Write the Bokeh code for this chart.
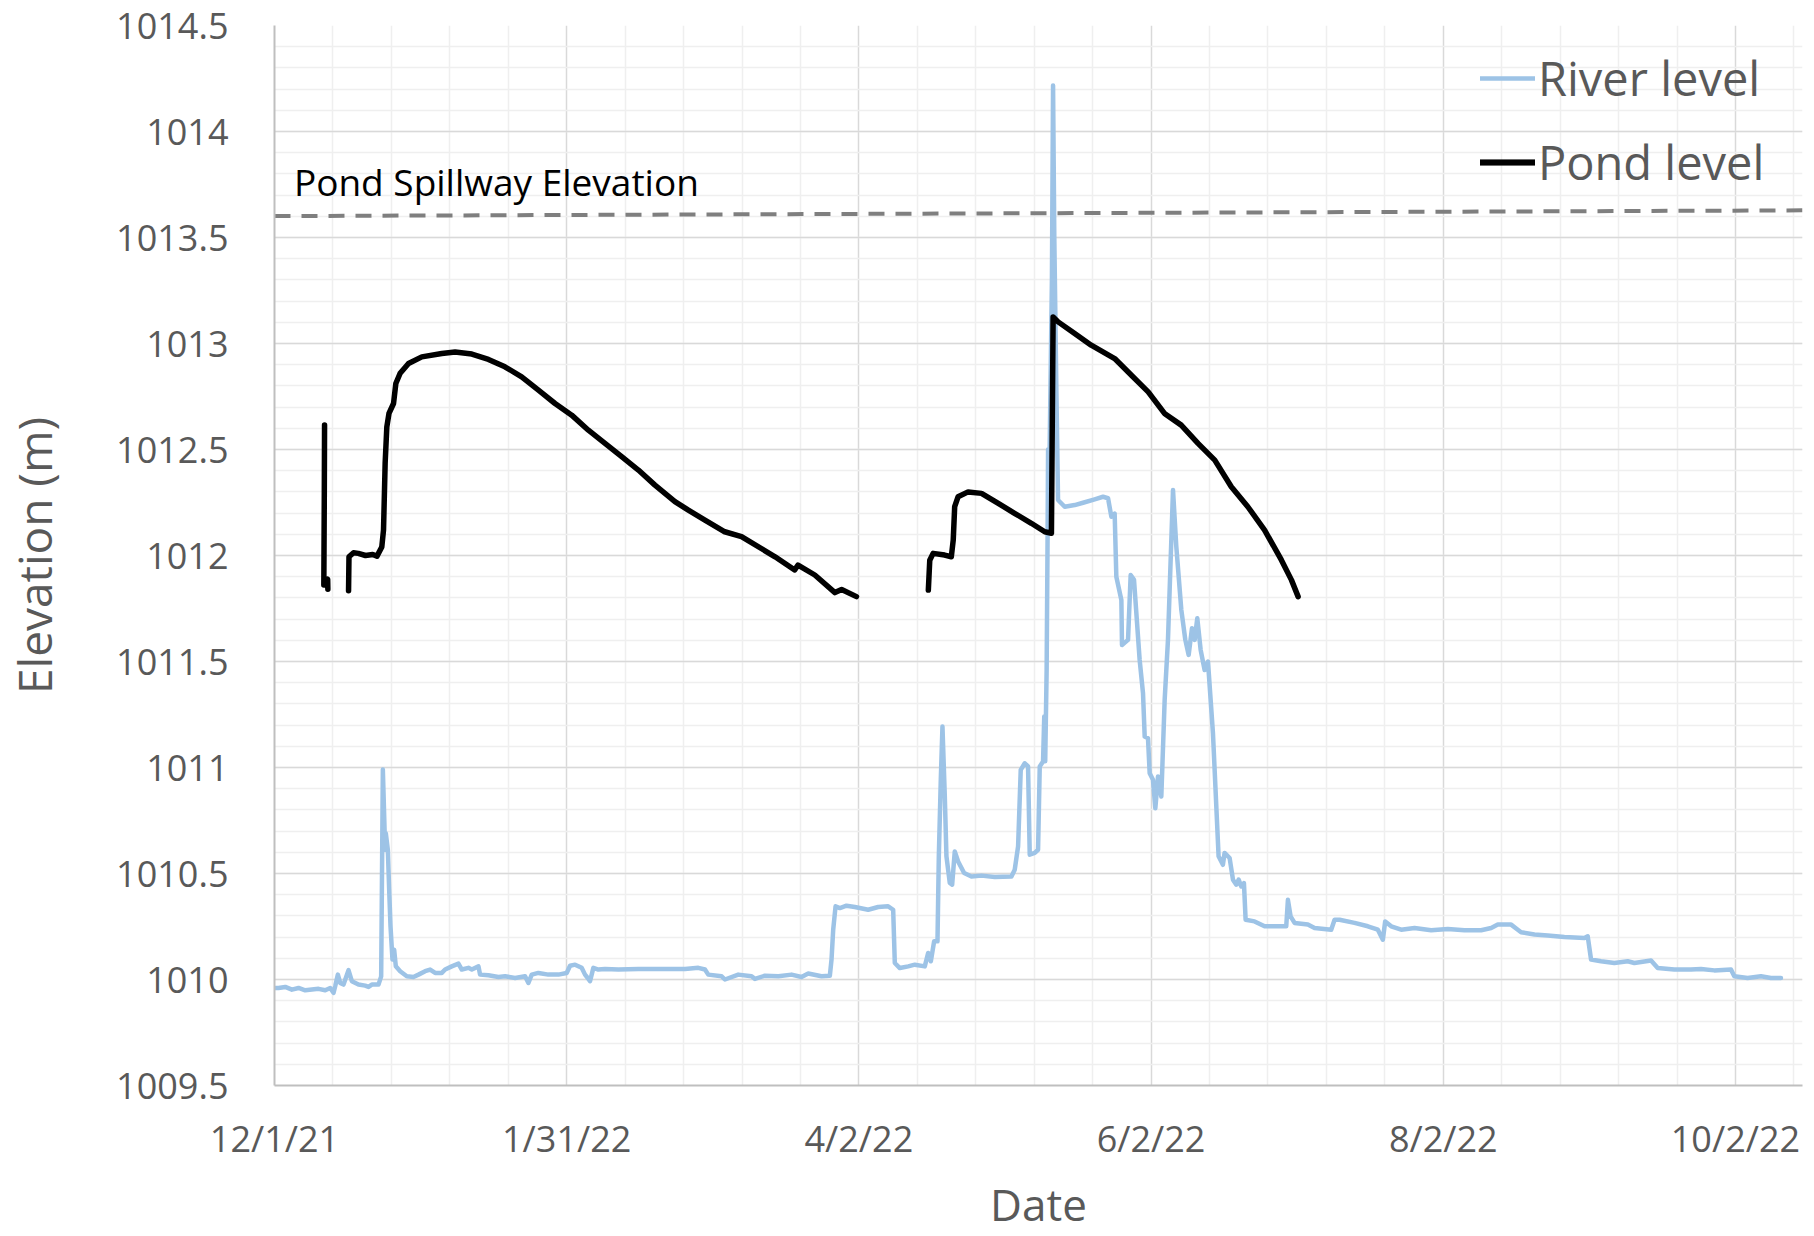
import numpy as np
import pandas as pd
from bokeh.plotting import figure
from bokeh.models import (FixedTicker, NumeralTickFormatter, CustomJSTickFormatter,
                          Label, Legend, LegendItem, Range1d)
from bokeh.embed import file_html
from bokeh.resources import INLINE

# ---------------- data (days since 2021-12-01) ----------------
START = pd.Timestamp("2021-12-01")
X_END_DAYS = 319.0

river_days = [
    0.0, 0.85, 2.24, 3.63, 5.02, 6.41, 9.19, 10.59, 11.63, 12.32, 12.67, 13.23, 13.71, 14.41,
    15.45, 16.15, 17.54, 18.93, 19.63, 20.32, 21.71, 22.27, 22.62, 23.10, 23.24, 23.66, 23.94,
    24.22, 24.63, 24.98, 25.33, 26.23, 27.62, 29.01, 30.06, 31.45, 32.49, 33.54, 34.93, 35.62,
    37.01, 38.40, 39.10, 40.49, 41.19, 42.58, 42.92, 44.66, 46.75, 48.14, 50.23, 52.31, 53.01,
    53.70, 55.09, 57.18, 59.27, 61.00, 61.70, 62.75, 64.13, 64.83, 65.39, 65.87, 66.57, 67.61,
    69.00, 71.79, 75.96, 79.43, 82.91, 85.70, 88.48, 89.87, 90.56, 93.35, 94.04, 96.82, 99.60,
    100.30, 102.40, 105.20, 107.95, 110.03, 111.42, 114.20, 115.94, 116.29, 116.64, 117.13,
    118.03, 119.42, 121.16, 123.94, 126.03, 128.11, 129.16, 129.50, 130.55, 132.29, 133.68,
    135.76, 136.46, 137.02, 137.71, 138.41, 138.69, 139.10, 139.45, 139.94, 140.28, 140.98,
    141.47, 142.02, 142.72, 143.97, 145.50, 147.59, 150.37, 153.85, 154.54, 155.24, 155.79,
    156.63, 157.32, 157.67, 158.71, 159.41, 159.76, 160.45, 160.70, 160.90, 161.20, 161.40,
    161.50, 161.65, 162.30, 162.54, 162.80, 163.24, 163.58, 164.97, 167.06, 168.80, 171.23,
    172.97, 174.02, 174.71, 175.40, 175.75, 176.80, 176.93, 178.19, 178.74, 179.44, 180.62,
    181.32, 181.67, 182.36, 182.71, 183.40, 183.89, 184.45, 185.14, 185.84, 186.53, 187.58,
    188.27, 189.32, 190.15, 190.85, 191.54, 192.10, 192.65, 193.35, 194.18, 194.88, 195.92,
    197.10, 198.00, 198.35, 199.40, 200.10, 200.80, 201.28, 201.83, 202.39, 202.74, 204.61,
    206.70, 208.79, 211.22, 211.57, 212.13, 212.96, 215.74, 217.13, 220.61, 221.31, 222.35,
    225.48, 228.26, 230.35, 231.39, 231.88, 233.13, 235.22, 238.00, 241.48, 244.95, 248.43,
    251.91, 254.00, 255.39, 258.17, 259.56, 260.25, 263.04, 265.82, 269.29, 273.47, 274.16,
    274.86, 276.94, 279.72, 282.51, 283.90, 287.38, 288.77, 292.24, 295.72, 297.81, 300.59,
    304.07, 304.76, 307.54, 310.33, 312.42, 314.50,
]
river_level = [
    1009.960, 1009.960, 1009.965, 1009.952, 1009.960, 1009.949, 1009.956, 1009.949, 1009.960,
    1009.937, 1009.968, 1010.023, 1009.984, 1009.976, 1010.044, 1009.992, 1009.976, 1009.971,
    1009.965, 1009.976, 1009.976, 1010.015, 1010.990, 1010.612, 1010.690, 1010.612, 1010.424,
    1010.251, 1010.094, 1010.141, 1010.062, 1010.039, 1010.015, 1010.012, 1010.023, 1010.039,
    1010.047, 1010.031, 1010.031, 1010.047, 1010.062, 1010.075, 1010.047, 1010.055, 1010.047,
    1010.062, 1010.023, 1010.020, 1010.012, 1010.015, 1010.007, 1010.015, 1009.984, 1010.023,
    1010.031, 1010.023, 1010.023, 1010.031, 1010.065, 1010.070, 1010.055, 1010.023, 1010.007,
    1009.992, 1010.055, 1010.047, 1010.050, 1010.047, 1010.050, 1010.050, 1010.050, 1010.050,
    1010.055, 1010.047, 1010.023, 1010.015, 1010.000, 1010.023, 1010.015, 1010.003, 1010.018,
    1010.015, 1010.023, 1010.012, 1010.028, 1010.015, 1010.018, 1010.094, 1010.235, 1010.345,
    1010.337, 1010.348, 1010.342, 1010.329, 1010.342, 1010.345, 1010.329, 1010.078, 1010.054,
    1010.062, 1010.070, 1010.062, 1010.125, 1010.086, 1010.180, 1010.180, 1010.581, 1010.942,
    1011.193, 1010.863, 1010.581, 1010.455, 1010.447, 1010.604, 1010.557, 1010.502, 1010.486,
    1010.490, 1010.483, 1010.486, 1010.518, 1010.628, 1010.989, 1011.020, 1011.005, 1010.589,
    1010.597, 1010.612, 1011.005, 1011.028, 1011.240, 1011.030, 1011.460, 1012.100, 1012.500,
    1012.200, 1013.300, 1014.217, 1013.500, 1012.764, 1012.262, 1012.230, 1012.238, 1012.249,
    1012.265, 1012.277, 1012.270, 1012.183, 1012.198, 1011.900, 1011.790, 1011.578, 1011.602,
    1011.908, 1011.885, 1011.507, 1011.350, 1011.146, 1011.138, 1010.973, 1010.942, 1010.808,
    1010.958, 1010.863, 1011.319, 1011.602, 1012.309, 1012.042, 1011.743, 1011.602, 1011.531,
    1011.657, 1011.602, 1011.704, 1011.555, 1011.460, 1011.500, 1011.162, 1010.581, 1010.541,
    1010.597, 1010.573, 1010.471, 1010.447, 1010.471, 1010.439, 1010.455, 1010.282, 1010.274,
    1010.251, 1010.251, 1010.251, 1010.376, 1010.298, 1010.267, 1010.259, 1010.243, 1010.235,
    1010.282, 1010.282, 1010.267, 1010.251, 1010.235, 1010.188, 1010.274, 1010.251, 1010.235,
    1010.243, 1010.232, 1010.238, 1010.232, 1010.232, 1010.243, 1010.259, 1010.259, 1010.235,
    1010.223, 1010.212, 1010.207, 1010.200, 1010.196, 1010.204, 1010.094, 1010.086, 1010.078,
    1010.086, 1010.078, 1010.090, 1010.054, 1010.047, 1010.047, 1010.050, 1010.043, 1010.047,
    1010.015, 1010.007, 1010.015, 1010.007, 1010.007,
]

pond1_days = [10.45, 10.40, 10.30, 11.10, 11.14]
pond1_level = [1012.615, 1012.300, 1011.861, 1011.888, 1011.841]

pond2_days = [
    15.46, 15.55, 16.50, 17.50, 19.00, 20.50, 21.40, 22.40, 22.76, 23.10, 23.45, 23.90, 24.85,
    25.33, 26.23, 27.98, 30.75, 34.93, 37.70, 41.20, 44.67, 48.10, 51.60, 55.10, 58.57, 62.05,
    65.53, 69.00, 72.48, 75.97, 79.43, 83.60, 86.40, 89.86, 94.00, 97.50, 104.50, 108.60,
    109.30, 112.80, 117.00, 118.40, 121.50,
]
pond2_level = [
    1011.834, 1011.994, 1012.013, 1012.010, 1012.000, 1012.005, 1011.997, 1012.040, 1012.120,
    1012.435, 1012.607, 1012.670, 1012.717, 1012.811, 1012.860, 1012.906, 1012.937, 1012.953,
    1012.960, 1012.950, 1012.925, 1012.890, 1012.843, 1012.780, 1012.717, 1012.662, 1012.591,
    1012.529, 1012.466, 1012.403, 1012.332, 1012.254, 1012.214, 1012.167, 1012.112, 1012.089,
    1011.994, 1011.932, 1011.955, 1011.908, 1011.825, 1011.840, 1011.806,
]

pond3_days = [
    136.50, 136.80, 137.50, 139.90, 141.30, 141.70, 142.00, 142.70, 144.80, 147.60, 151.10,
    154.50, 158.00, 160.80, 162.20, 162.55, 163.60, 167.05, 170.50, 175.40, 178.90, 182.40,
    185.80, 189.30, 192.80, 196.30, 199.75, 203.20, 206.70, 210.20, 212.30, 213.70,
]
pond3_level = [
    1011.837, 1011.978, 1012.010, 1012.002, 1011.994, 1012.073, 1012.230, 1012.277, 1012.300,
    1012.293, 1012.246, 1012.199, 1012.152, 1012.112, 1012.105, 1013.125, 1013.102, 1013.047,
    1012.992, 1012.929, 1012.850, 1012.772, 1012.670, 1012.615, 1012.529, 1012.450, 1012.324,
    1012.230, 1012.120, 1011.979, 1011.885, 1011.806,
]

spill_days = [0.0, 319.0]
spill_level = [1013.601, 1013.628]
spill_text = "Pond Spillway Elevation"
spill_text_days = 4.05
spill_text_level = 1013.765

x_tick_dates = ["2021-12-01", "2022-01-31", "2022-04-02", "2022-06-02", "2022-08-02", "2022-10-02"]
y_ticks = [1009.5, 1010.0, 1010.5, 1011.0, 1011.5, 1012.0, 1012.5, 1013.0, 1013.5, 1014.0, 1014.5]
y_min, y_max = 1009.5, 1014.5


def to_dt(days):
    return START + pd.to_timedelta(np.asarray(days, dtype=float), unit="D")


def to_ms(ts):
    return pd.Timestamp(ts).value / 1e6


FONT = "Open Sans"
GREY_TXT = "#595959"

p = figure(width=1814, height=1236, x_axis_type="datetime",
           output_backend="svg", toolbar_location=None,
           x_range=Range1d(to_ms(START), to_ms(START + pd.Timedelta(days=X_END_DAYS))),
           y_range=Range1d(y_min, y_max),
           min_border_left=273, min_border_right=12, min_border_top=25, min_border_bottom=150)
p.outline_line_color = None
p.background_fill_color = "white"
p.border_fill_color = "white"

# ticks
major_ms = [to_ms(d) for d in x_tick_dates]
step_ms = (major_ms[1] - major_ms[0]) / 5.0
minor_ms = []
for m in major_ms:
    for k in range(1, 5):
        minor_ms.append(m + k * step_ms)
minor_ms.append(major_ms[-1] + 5 * step_ms)
p.xaxis.ticker = FixedTicker(ticks=major_ms, minor_ticks=minor_ms)
p.xaxis.formatter = CustomJSTickFormatter(code="""
    const d = new Date(tick);
    return (d.getUTCMonth() + 1) + "/" + d.getUTCDate() + "/" + String(d.getUTCFullYear()).slice(2);
""")
y_minor = [round(y_min + 0.1 * i, 1) for i in range(int(round((y_max - y_min) / 0.1)) + 1)]
p.yaxis.ticker = FixedTicker(ticks=y_ticks, minor_ticks=y_minor)
p.yaxis.formatter = NumeralTickFormatter(format="0.[0]")

for ax in (p.xaxis[0], p.yaxis[0]):
    ax.major_tick_line_color = None
    ax.minor_tick_line_color = None
    ax.axis_line_color = "#bfbfbf"
    ax.axis_line_width = 2
    ax.major_label_text_font = FONT
    ax.major_label_text_font_size = "36px"
    ax.major_label_text_color = GREY_TXT
    ax.axis_label_text_font = FONT
    ax.axis_label_text_font_style = "normal"
    ax.axis_label_text_color = GREY_TXT

p.xaxis.axis_label = "Date"
p.yaxis.axis_label = "Elevation (m)"
p.xaxis.axis_label_text_font_size = "44px"
p.yaxis.axis_label_text_font_size = "46px"
p.xaxis.major_label_standoff = 22
p.xaxis.axis_label_standoff = 8
p.yaxis.major_label_standoff = 40
p.yaxis.axis_label_standoff = 48

for g in (p.xgrid[0], p.ygrid[0]):
    g.grid_line_color = "#d9d9d9"
    g.grid_line_width = 1.5
    g.minor_grid_line_color = "#efefef"
    g.minor_grid_line_width = 1.5

# series
r_river = p.line(to_dt(river_days), river_level, line_color="#9dc3e6", line_width=4.5,
                 line_join="round", line_cap="round")
pond_style = dict(line_color="black", line_width=5.5, line_join="round", line_cap="round")
r_p1 = p.line(to_dt(pond1_days), pond1_level, **pond_style)
r_p2 = p.line(to_dt(pond2_days), pond2_level, **pond_style)
r_p3 = p.line(to_dt(pond3_days), pond3_level, **pond_style)
p.line(to_dt(spill_days), spill_level, line_color="#7f7f7f", line_width=4, line_dash="16 11")

p.add_layout(Label(x=to_ms(START + pd.Timedelta(days=spill_text_days)), y=spill_text_level,
                   text=spill_text, text_font=FONT, text_font_size="37px", text_color="black",
                   text_baseline="alphabetic"))

legend = Legend(items=[LegendItem(label="River level", renderers=[r_river]),
                       LegendItem(label="Pond level", renderers=[r_p1, r_p2, r_p3])],
                location=(1206, 891), border_line_color=None, background_fill_alpha=0,
                padding=0, margin=0, glyph_width=55, glyph_height=50, label_height=50,
                label_standoff=3, spacing=20, label_text_font=FONT,
                label_text_font_size="47px", label_text_color=GREY_TXT)
p.add_layout(legend)

open("out.html", "w").write(file_html(p, INLINE))
